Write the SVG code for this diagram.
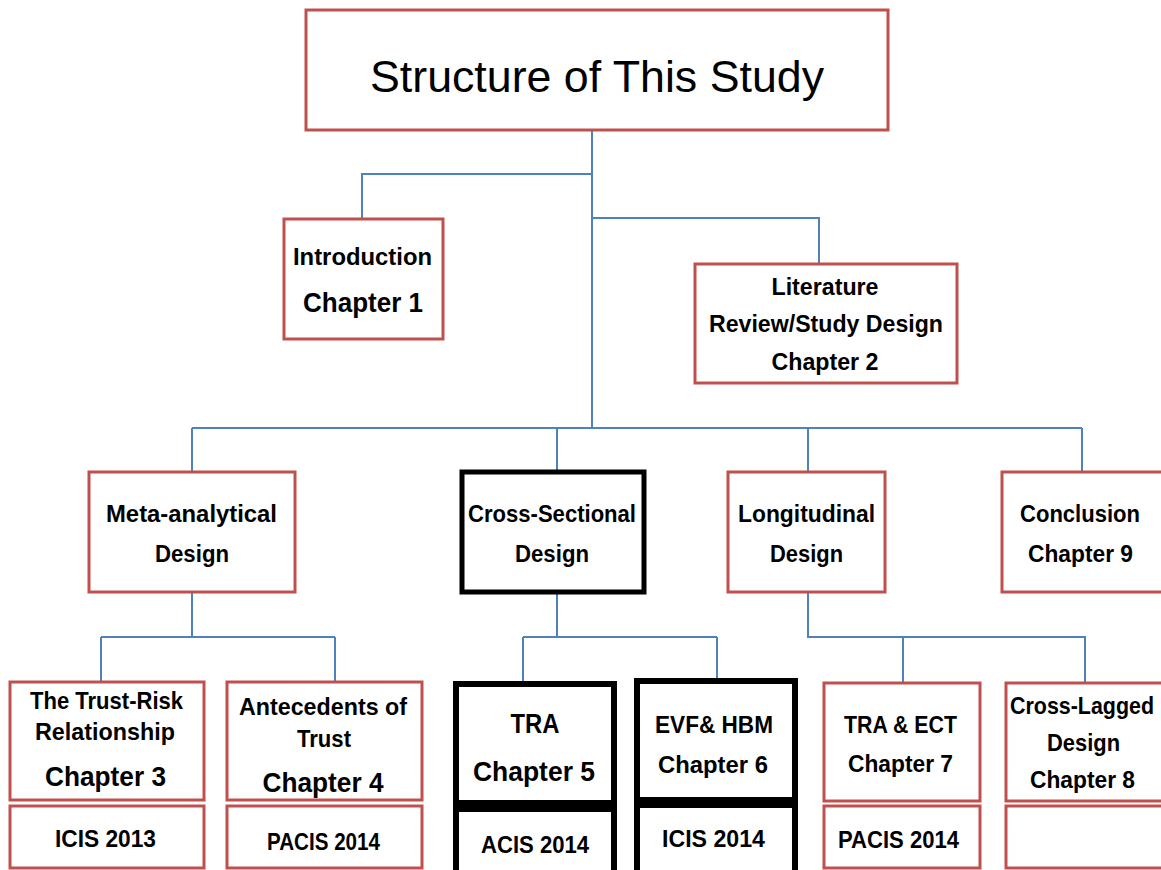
<svg xmlns="http://www.w3.org/2000/svg" width="1161" height="870" viewBox="0 0 1161 870">
<style>
.r{fill:#fff;stroke:#C0504D;stroke-width:3}
.k{fill:#fff;stroke:#000;stroke-width:5}
.kk{fill:#fff;stroke:#000;stroke-width:6}
.c{fill:none;stroke:#4F81BD;stroke-width:2}
text{font-family:"Liberation Sans",Arial,sans-serif;font-weight:bold;fill:#000;text-anchor:middle}
.t{font-size:24px}
.b{font-size:27px}
.h{font-size:44px;font-weight:normal}
</style>
<rect width="1161" height="870" fill="#fff"/>
<g id="connectors">
<path class="c" d="M592 130V428M592 174H362V219M592 218H819V264"/>
<path class="c" d="M192 428H1082M192 428V472M557 428V472M808 428V472M1082 428V472"/>
<path class="c" d="M192 592V637M101 637H335M101 637V682M335 637V682"/>
<path class="c" d="M557 594V637M523 637H717M523 637V682M717 637V680"/>
<path class="c" d="M808 592V637H1085V682M903 637V682"/>
</g>
<g id="title"><rect class="r" x="306" y="10" width="582" height="120"/><text class="h" x="597" y="92" textLength="454" lengthAdjust="spacingAndGlyphs">Structure of This Study</text></g>
<g id="intro"><rect class="r" x="284" y="219" width="159" height="120"/><text class="t" x="362.5" y="265" textLength="139" lengthAdjust="spacingAndGlyphs">Introduction</text><text class="b" x="363" y="312" textLength="120" lengthAdjust="spacingAndGlyphs">Chapter 1</text></g>
<g id="literature"><rect class="r" x="695" y="264" width="262" height="119"/><text class="t" x="825" y="295" textLength="107" lengthAdjust="spacingAndGlyphs">Literature</text><text class="t" x="826" y="332" textLength="234" lengthAdjust="spacingAndGlyphs">Review/Study Design</text><text class="t" x="825" y="370" textLength="107" lengthAdjust="spacingAndGlyphs">Chapter 2</text></g>
<g id="meta"><rect class="r" x="89" y="472" width="206" height="120"/><text class="t" x="191.5" y="522" textLength="171" lengthAdjust="spacingAndGlyphs">Meta-analytical</text><text class="t" x="192" y="562" textLength="74" lengthAdjust="spacingAndGlyphs">Design</text></g>
<g id="cross"><rect class="k" x="462" y="472" width="182" height="120"/><text class="t" x="552" y="522" textLength="168" lengthAdjust="spacingAndGlyphs">Cross-Sectional</text><text class="t" x="552" y="562" textLength="74" lengthAdjust="spacingAndGlyphs">Design</text></g>
<g id="longitudinal"><rect class="r" x="728" y="472" width="157" height="120"/><text class="t" x="806.5" y="522" textLength="137" lengthAdjust="spacingAndGlyphs">Longitudinal</text><text class="t" x="806.5" y="562" textLength="73" lengthAdjust="spacingAndGlyphs">Design</text></g>
<g id="conclusion"><rect class="r" x="1002" y="472" width="162" height="120"/><text class="t" x="1080" y="522" textLength="120" lengthAdjust="spacingAndGlyphs">Conclusion</text><text class="t" x="1080.5" y="562" textLength="105" lengthAdjust="spacingAndGlyphs">Chapter 9</text></g>
<g id="ch3"><rect class="r" x="10" y="682" width="194" height="118"/><text class="t" x="106.5" y="709" textLength="153" lengthAdjust="spacingAndGlyphs">The Trust-Risk</text><text class="t" x="105" y="740" textLength="140" lengthAdjust="spacingAndGlyphs">Relationship</text><text class="b" x="105.5" y="786" textLength="121" lengthAdjust="spacingAndGlyphs">Chapter 3</text></g>
<g id="icis2013"><rect class="r" x="10" y="806" width="194" height="62"/><text class="t" x="105.5" y="847" textLength="101" lengthAdjust="spacingAndGlyphs">ICIS 2013</text></g>
<g id="ch4"><rect class="r" x="227" y="682" width="195" height="118"/><text class="t" x="323" y="715" textLength="168" lengthAdjust="spacingAndGlyphs">Antecedents of</text><text class="t" x="324" y="747" textLength="54" lengthAdjust="spacingAndGlyphs">Trust</text><text class="b" x="323" y="792" textLength="121" lengthAdjust="spacingAndGlyphs">Chapter 4</text></g>
<g id="pacis1"><rect class="r" x="227" y="806" width="195" height="62"/><text class="t" x="323.5" y="850" textLength="113" lengthAdjust="spacingAndGlyphs">PACIS 2014</text></g>
<g id="ch5"><rect class="kk" x="456" y="684" width="158" height="119"/><text class="b" x="535" y="733" textLength="49" lengthAdjust="spacingAndGlyphs">TRA</text><text class="b" x="534" y="781" textLength="122" lengthAdjust="spacingAndGlyphs">Chapter 5</text></g>
<g id="acis"><rect class="kk" x="456" y="809" width="158" height="64"/><text class="t" x="535" y="853" textLength="108" lengthAdjust="spacingAndGlyphs">ACIS 2014</text></g>
<g id="ch6"><rect class="kk" x="637" y="681" width="158" height="119"/><text class="t" x="714" y="733" textLength="118" lengthAdjust="spacingAndGlyphs">EVF&amp; HBM</text><text class="t" x="713" y="773" textLength="110" lengthAdjust="spacingAndGlyphs">Chapter 6</text></g>
<g id="icis2014"><rect class="kk" x="637" y="805" width="158" height="68"/><text class="t" x="713.5" y="847" textLength="103" lengthAdjust="spacingAndGlyphs">ICIS 2014</text></g>
<g id="ch7"><rect class="r" x="824" y="683" width="156" height="118"/><text class="t" x="900.5" y="733" textLength="113" lengthAdjust="spacingAndGlyphs">TRA &amp; ECT</text><text class="t" x="900.5" y="772" textLength="105" lengthAdjust="spacingAndGlyphs">Chapter 7</text></g>
<g id="pacis2"><rect class="r" x="824" y="806" width="156" height="62"/><text class="t" x="898.5" y="848" textLength="121" lengthAdjust="spacingAndGlyphs">PACIS 2014</text></g>
<g id="ch8"><rect class="r" x="1006" y="683" width="158" height="118"/><text class="t" x="1082" y="714" textLength="144" lengthAdjust="spacingAndGlyphs">Cross-Lagged</text><text class="t" x="1083.5" y="751" textLength="73" lengthAdjust="spacingAndGlyphs">Design</text><text class="t" x="1082.5" y="788" textLength="105" lengthAdjust="spacingAndGlyphs">Chapter 8</text></g>
<g id="empty"><rect class="r" x="1006" y="806" width="158" height="62"/></g>
</svg>
